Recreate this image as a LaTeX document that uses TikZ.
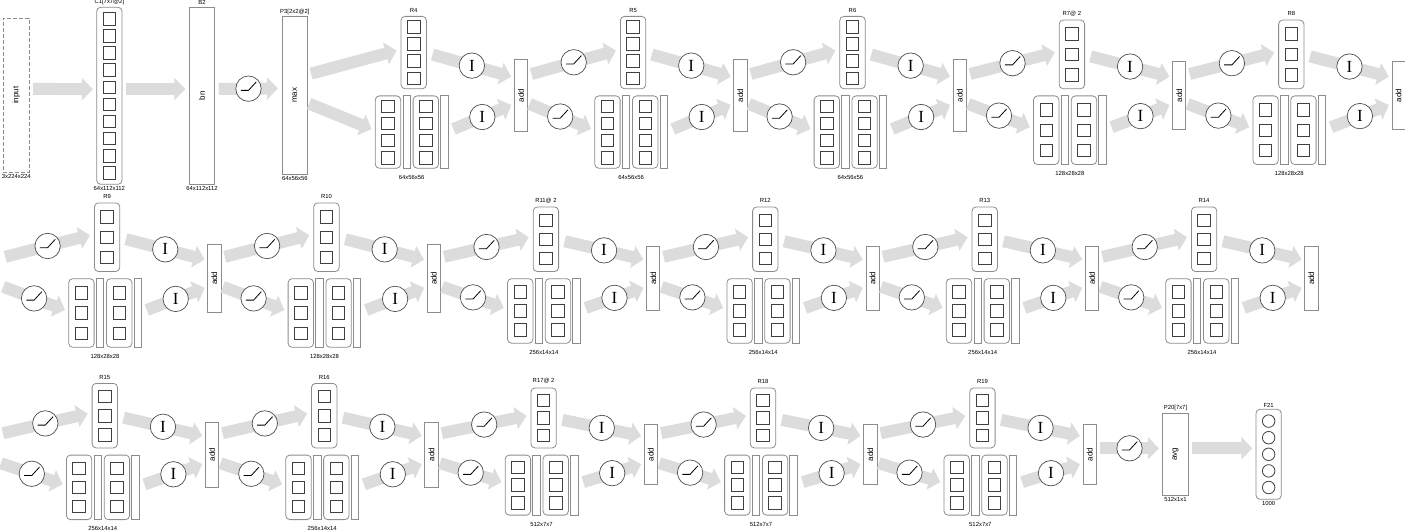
\documentclass[tikz,border=0pt]{standalone}
\usepackage{fontspec}
\usepackage{graphicx}
\setmainfont{Liberation Sans}
\newfontfamily\identfont{Liberation Serif}
\usetikzlibrary{positioning, arrows.meta, calc}
\definecolor{flowgray}{HTML}{DCDCDC}
\definecolor{edgegray}{HTML}{8C8C8C}
\tikzset {
    x=1pt, y=-1pt,
    flow/.style={draw=flowgray, line width=12pt, -{Triangle[width=22pt, length=11pt]}},
    box/.style={draw=edgegray, fill=white, line width=0.8pt, inner sep=0pt},
    layer/.style={box, rounded corners=4pt, minimum width=25.4pt},
    slab/.style={box, minimum width=7.5pt},
    big/.style={font=\fontsize{8}{8}\selectfont},
    addbar/.style={box, big, minimum width=13.3pt},
    cell/.style={draw=black!75, line width=0.8pt, minimum size=12.5pt, inner sep=0pt},
    unit/.style={cell, circle},
    act/.style={circle, draw=black!70, fill=white, line width=0.7pt, minimum size=25.4pt, inner sep=0pt},
    relu/.style={act, path picture={\draw[-, shorten <=0pt, shorten >=0pt, black, line width=0.8pt]
        ([shift={(-7.7,1.7)}]path picture bounding box.center) -- ++(7.7,0) -- ++(7.7,-8.4);}},
    ident/.style={act, font=\identfont\fontsize{17}{17}\selectfont},
    tag/.style={inner sep=1pt, font=\fontsize{5.9}{6}\selectfont}
}
\begin{document}
\begin{tikzpicture}
\useasboundingbox (0,0) rectangle (1405,532);

\node[box, big, dashed, dash pattern=on 4pt off 2pt, minimum width=26pt, minimum height=154pt] (input) at (16.3,95.3) {\rotatebox{90}{input}};
\node[tag, below=0.5pt of input] {3x224x224};
\node[layer, minimum height=177pt] (c1) at (109.35,95.8) {};
\foreach \k in {1,...,10}
    \node[cell] at ($(c1)+(0,{(\k-5.5)*17.1})$) {};
\node[tag, above=1pt of c1] {C1[7x7@2]};
\node[tag, below=0.5pt of c1] {64x112x112};
\node[box, big, minimum width=25.4pt, minimum height=177pt] (b2) at (202,95.8) {\rotatebox{90}{bn}};
\node[tag, above=1pt of b2] {B2};
\node[tag, below=0.5pt of b2] {64x112x112};
\node[box, big, minimum width=25pt, minimum height=158.3pt] (p3) at (294.8,95.15) {\rotatebox{90}{max}};
\node[tag, above=0pt of p3] {P3[2x2@2]};
\node[tag, below=0.5pt of p3] {64x56x56};

\draw[flow, shorten <=3.4pt, shorten >=3.4pt] ([yshift=6.5pt]input.east) -- ([yshift=6.5pt]c1.west);
\draw[flow, shorten <=3.3pt, shorten >=3.6pt] ([yshift=6.8pt]c1.east) -- ([yshift=6.8pt]b2.west);
\draw[flow, shorten <=3.6pt, shorten >=4pt] ([yshift=6.8pt]b2.east) -- node[relu] {} ([yshift=6.8pt]p3.west);

\node[inner sep=0pt, minimum size=0pt] (s9) at (1.6,278.3) {};
\node[inner sep=0pt, minimum size=0pt] (s15) at (-0.7,454.7) {};

\foreach \id/\A/\yg/\h/\n/\gap/\tname/\tsize in {
    4/294.9/92.3/72.3/4/17.1/R4/64x56x56,
    5/514.3/92.3/72.3/4/17.1/R5/64x56x56,
    6/733.7/92.3/72.3/4/17.1/R6/64x56x56,
    7/953.1/92.3/68.6/3/20.3/R7@ 2/128x28x28,
    8/1172.5/92.3/68.6/3/20.3/R8/128x28x28,
    9/-11.7/275.1/68.6/3/20.3/R9/128x28x28,
    10/207.7/275.1/68.6/3/20.3/R10/128x28x28,
    11/427.1/275.1/64.5/3/19.1/R11@ 2/256x14x14,
    12/646.5/275.1/64.5/3/19.1/R12/256x14x14,
    13/865.9/275.1/64.5/3/19.1/R13/256x14x14,
    14/1085.3/275.1/64.5/3/19.1/R14/256x14x14,
    15/-14/451.5/64.5/3/19.1/R15/256x14x14,
    16/205.4/451.5/64.5/3/19.1/R16/256x14x14,
    17/424.8/451.5/60/3/17.7/R17@ 2/512x7x7,
    18/644.2/451.5/60/3/17.7/R18/512x7x7,
    19/863.6/451.5/60/3/17.7/R19/512x7x7}
{
    \node[layer, minimum height=\h pt, anchor=south west] (t\id) at (\A+105.7,\yg-3.2) {};
    \node[layer, minimum height=\h pt, anchor=north west] (b\id) at (\A+80,\yg+3.2) {};
    \node[slab, minimum height=\h pt, right=1.4pt of b\id] (m\id) {};
    \node[layer, minimum height=\h pt, right=1.9pt of m\id] (c\id) {};
    \node[slab, minimum height=\h pt, right=1.2pt of c\id] (r\id) {};
    \foreach \k in {1,...,\n} {
        \node[cell] at ($(t\id)+(0,{(\k-(\n+1)/2)*\gap})$) {};
        \node[cell] at ($(b\id)+(0,{(\k-(\n+1)/2)*\gap})$) {};
        \node[cell] at ($(c\id)+(0,{(\k-(\n+1)/2)*\gap})$) {};
    }
    \node[tag, above=2.5pt of t\id] {\tname};
    \node[tag, below=5.5pt] at ($(b\id.south west)!.5!(r\id.south east)$) {\tsize};
    \node[addbar, minimum height=\h pt] (add\id) at (\A+226.05,\yg+3.2) {\rotatebox{90}{add}};
    \draw[flow] ($(t\id.east)+(5.7,2)$) -- node[ident] {I} ($(add\id.west)+(-2.7,-18.8)$);
    \draw[flow] ($(r\id.east)+(5,-3)$) -- node[ident] {I} ($(add\id.west)+(-2.7,9.5)$);
}

\draw[flow] ($(p3.east)+(3.4,-21.5)$) -- ($(t4.west)+(-4,-2)$);
\draw[flow] ($(p3.east)+(1.4,8.5)$) -- ($(b4.west)+(-3.3,-3)$);
\foreach \src/\id in {add4/5, add5/6, add6/7, add7/8, s9/9, add9/10, add10/11, add11/12,
    add12/13, add13/14, s15/15, add15/16, add16/17, add17/18, add18/19}
{
    \draw[flow] ($(\src.east)+(3.4,-21.5)$) -- node[relu] {} ($(t\id.west)+(-4,-2)$);
    \draw[flow] ($(\src.east)+(1.4,8.5)$) -- node[relu] {} ($(b\id.west)+(-3.3,-3)$);
}

\node[box, big, minimum width=25.6pt, minimum height=82pt] (p20) at (1175.5,454.3) {\rotatebox{90}{avg}};
\node[tag, above=0.5pt of p20] {P20[7x7]};
\node[tag, below=0.5pt of p20] {512x1x1};
\node[layer, minimum width=25.3pt, minimum height=90pt] (f21) at (1268.65,454.3) {};
\foreach \k in {1,...,5}
    \node[unit] at ($(f21)+(0,{(\k-3)*16.6})$) {};
\node[tag, above=0.5pt of f21] {F21};
\node[tag, below=0.5pt of f21] {1000};
\draw[flow, shorten <=3.3pt, shorten >=3.4pt] ([yshift=6.4pt]add19.east) -- node[relu] {} ([yshift=6pt]p20.west);
\draw[flow, shorten <=3.4pt, shorten >=3.3pt] ([yshift=6pt]p20.east) -- ([yshift=6pt]f21.west);
\end{tikzpicture}
\end{document}
